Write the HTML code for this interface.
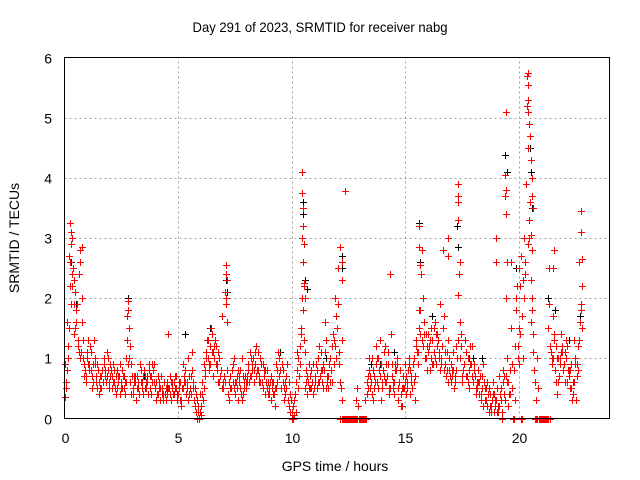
<!DOCTYPE html>
<html><head><meta charset="utf-8"><style>
html,body{margin:0;padding:0;background:#fff;}
svg{display:block;font-family:"Liberation Sans",sans-serif;}
</style></head><body>
<svg id="chart" width="640" height="480" viewBox="0 0 640 480" xmlns="http://www.w3.org/2000/svg">
<rect width="640" height="480" fill="#fff"/>
<text x="320" y="32" text-anchor="middle" font-size="14" textLength="255" lengthAdjust="spacingAndGlyphs">Day 291 of 2023, SRMTID for receiver nabg</text>
<g id="grid"></g>
<g id="ticks"></g>
<g id="marks"></g>
<rect x="64.5" y="57.5" width="545" height="361" fill="none" stroke="#000" stroke-width="1"/>
<text x="335" y="471" text-anchor="middle" font-size="14">GPS time / hours</text>
<text transform="translate(19,238) rotate(-90)" text-anchor="middle" font-size="14">SRMTID / TECUs</text>
</svg>
<script>
const xTicks=[0,5,10,15,20];
const yTicks=[0,1,2,3,4,5,6];
const sampleStepHours=0.1;
const redMainValues=[0.35,0.8,1.5,2.9,2.3,1.8,1.2,2.8,1.0,0.8,1.1,0.9,0.7,1.3,0.7,0.6,0.5,0.6,0.8,1.0,0.9,0.7,0.6,0.5,0.7,0.6,0.5,1.0,1.8,0.6,0.5,0.6,0.7,0.4,0.6,0.8,0.5,0.9,0.7,0.8,0.5,0.4,0.3,0.5,0.6,0.4,0.5,0.3,0.6,0.5,0.4,0.6,0.5,0.8,0.6,0.4,1.1,0.3,0.1,0.2,0.05,0.3,0.8,1.0,1.2,1.4,1.0,0.9,0.6,0.8,0.5,2.4,0.4,0.7,0.6,0.4,0.5,0.7,0.3,0.6,0.5,0.8,0.7,1.0,0.9,0.8,1.0,0.6,0.7,0.5,0.4,0.3,0.6,0.5,1.1,0.8,0.6,0.4,0.9,0.2,0.1,0.05,0.6,1.0,1.4,1.8,0.5,0.4,0.7,0.6,0.5,0.8,0.6,1.1,0.9,0.5,0.7,1.0,0.6,2.0,1.5,0.9,0.3,0,0,0,0,0,0,0.5,0,0,0,0.4,0.8,0.6,0.3,0.9,1.0,0.7,0.5,1.2,0.7,0.4,0.9,0.6,0.8,0.3,0.4,0.7,0.9,0.6,0.8,0.5,1.0,1.3,1.5,2.4,1.2,1.0,1.4,0.8,1.3,1.6,1.2,1.1,0.9,1.7,0.7,0.6,0.9,0.8,0.6,1.0,1.6,0.7,0.9,1.1,0.5,0.9,0.6,0.4,0.8,0.7,0.5,0.3,0.6,0.1,0.2,0.4,0.3,0.1,0.5,0.8,0.3,0.6,0.4,0.9,0,1.8,1.5,0,2.3,2.6,4.5,3.6,2.0,0,1.0,0,0,0,0,1.5,0,1.7,0.8,0.4,1.0,1.2,0.9,1.0,0.7,0.5,0.4,1.0,0.8,1.6];
const redSecondValues=[0.6,1.2,2.6,2.2,1.5,1.9,1.1,2.0,0.9,0.7,1.3,0.8,0.6,0.9,0.5,0.7,0.8,0.9,0.7,0.5,0.8,0.6,0.4,0.7,0.9,0.5,0.6,1.3,1.0,0.4,0.6,0.3,0.5,0.8,0.4,0.7,0.6,0.5,0.9,0.6,0.3,0.5,0.7,0.4,0.5,1.4,0.4,0.6,0.5,0.3,0.5,0.2,0.6,0.4,1.0,0.7,0.5,0.2,0,0.4,0.6,0.9,1.1,0.8,1.5,0.7,1.2,0.6,0.7,1.7,2.1,0.8,0.3,0.5,1.0,0.6,0.8,0.5,0.4,0.7,0.6,1.1,0.9,0.6,1.2,0.7,0.9,0.5,0.8,0.4,0.6,0.5,0.2,0.8,1.0,0.5,0.3,0.7,0.3,0.1,0,0.4,0.8,1.2,3.0,1.3,0.6,0.9,0.5,0.4,0.6,1.0,0.7,0.8,1.6,0.6,0.9,0.8,1.3,1.0,2.5,0,0,0,0,0,0,0,0.3,0,0,0,0,0.7,0.5,1.0,0.5,0.6,0.8,0.3,1.1,0.6,0.9,2.4,0.5,0.8,1.0,0.6,0.2,0.5,0.4,1.0,0.7,0.9,0.3,1.1,1.8,2.8,1.4,0.8,1.2,1.0,1.5,0.9,1.3,0.8,2.8,1.1,0.8,1.0,0.7,0.5,1.2,3.7,1.4,0.8,1.3,0.6,1.2,0.7,0.9,0.5,0.6,0.3,0.2,0.5,0.4,0.2,0.6,0.3,0.1,0.7,0,0.4,2.0,0.6,2.6,0,0.3,1.2,1.4,0,3.0,5.7,3.3,2.3,1.1,0,0.5,0,0,0,0,2.5,0.9,1.3,0.6,1.0,1.4,0.8,1.1,0.6,0.8,0.3,1.3,0.9,2.6];
const redThirdValues=[0.9,1.6,2.2,3.0,1.4,1.6,2.4,1.1,1.3,0.6,0.9,1.2,0.5,1.0,0.9,0.4,0.7,1.0,0.6,0.8,0.7,0.9,0.5,0.8,0.4,0.8,0.7,0.6,1.5,0.9,0.4,0.7,0.6,0.9,0.5,0.5,0.7,0.8,0.4,0.9,0.6,0.7,0.5,0.3,0.4,0.6,0.7,0.5,0.4,0.7,0.6,0.3,0.9,0.6,0.3,0.5,0.8,0.5,0.3,0.0,0.2,0.5,1.0,1.3,0.9,1.1,1.3,0.8,1.0,0.5,0.7,1.9,0.6,0.5,0.9,0.6,0.3,0.8,1.0,0.5,0.7,0.6,1.0,0.8,0.7,1.1,0.6,0.9,0.4,0.8,0.5,0.6,0.4,0.9,0.7,0.5,0.8,0.6,0.3,0.4,0.0,0.3,1.1,0.7,1.5,2.2,0.8,0.6,0.5,0.9,0.7,0.5,1.2,0.6,0.8,1.3,0.5,0.8,1.4,1.2,1.9,0.6,0,0,0,0,0,0,0,0.2,0,0,0.3,0.6,1.0,0.4,0.7,1.2,0.5,0.9,0.8,0.6,1.1,0.5,0.7,0.4,0.9,0.6,0.2,0.5,0.7,0.8,0.4,0.9,0.7,1.1,1.8,1.3,1.6,1.4,1.1,1.5,0.9,1.0,1.4,1.9,1.2,0.8,1.1,0.8,0.6,1.1,0.8,1.3,1.0,0.6,1.3,0.7,0.8,1.2,0.8,0.5,0.6,0.4,0.9,0.5,0.2,0.4,0.3,0.1,0.5,0.2,0.3,0.6,0.7,0.2,0.8,0.5,1.2,2.2,0.9,1.7,2.0,3.9,2.9,1.6,1.4,0.6,0,0,0,0,0,1.9,1.1,1.0,1.2,0.6,0.9,1.1,0.6,1.2,0.8,0.9,0.6,0.3,1.2,1.8];
const redFourthValues=[0.5,1.0,1.9,2.5,2.1,1.3,1.0,1.6,0.7,1.0,0.8,1.1,0.9,0.6,0.8,0.5,0.6,0.7,1.1,0.6,0.5,0.8,0.7,0.6,0.5,0.7,0.4,0.9,1.2,0.7,0.7,0.5,0.4,0.6,0.7,0.6,0.4,0.7,0.6,0.5,0.4,0.6,0.4,0.6,0.3,0.5,0.6,0.4,0.7,0.4,0.3,0.5,0.7,0.5,0.7,0.4,0.6,0.4,0.1,0.1,0.4,0.7,1.3,0.9,1.1,1.2,0.9,1.1,0.8,0.6,0.6,1.6,0.5,0.8,0.5,0.7,0.6,0.4,0.7,0.6,0.9,0.7,0.8,1.1,0.8,0.6,0.9,0.8,0.6,0.6,0.7,0.4,0.5,0.6,0.8,0.9,0.5,0.5,0.6,0.3,0.2,0.1,0.5,0.9,2.0,1.1,0.7,0.5,0.8,0.5,0.9,0.6,0.8,0.5,1.1,0.7,0.6,1.2,0.9,1.7,1.1,0.5,0,0,0,0,0,0,0,0,0,0,0,0.5,0.7,0.8,0.6,1.0,1.3,0.6,0.7,0.9,0.5,1.4,0.6,0.9,0.5,0.8,0.5,0.6,0.5,0.9,0.6,0.6,1.2,0.9,1.4,2.0,1.0,1.2,1.3,0.9,1.1,1.4,1.0,1.0,1.5,0.9,1.3,0.7,0.8,0.7,1.0,2.4,1.2,0.9,0.7,1.0,0.9,0.6,0.7,0.6,0.4,0.7,0.6,0.3,0.5,0.1,0.4,0.2,0.2,0.4,0.1,0.7,1.0,0.4,1.5,0.8,2.0,1.0,2.2,1.0,2.4,5.2,3.0,1.8,0.8,0.3,0,0,0,0,0,1.2,1.0,1.4,1.0,0.7,1.1,0.9,1.3,0.8,0.5,0.6,0.9,0.7,1.3,1.5];
const redSpikeTimes=[0.25,0.3,0.2,0.35,0.7,0.75,0.15,0.4,2.8,2.75,7.1,7.15,7.1,10.45,10.45,10.5,10.5,10.55,10.5,10.55,10.6,12.15,12.2,12.2,12.35,12.2,15.6,15.6,15.65,16.9,16.9,17.35,17.35,17.35,17.4,17.35,19.0,19.0,19.45,19.4,19.45,19.45,19.4,19.5,20.4,20.4,20.4,20.4,20.45,20.5,20.55,20.6,20.6,20.65,20.55,20.6,20.0,20.1,21.55,21.5,22.75,22.75,22.8,22.8,22.75];
const redSpikeValues=[3.25,3.1,2.7,2.4,2.6,2.85,1.2,1.9,1.95,1.7,2.55,2.3,2.0,4.1,3.75,3.5,3.2,2.9,2.6,2.25,2.0,2.85,2.6,2.3,3.78,1.3,3.2,2.85,2.55,3.0,2.7,3.9,3.6,3.3,2.6,2.05,3.0,2.6,5.1,4.05,3.8,3.4,3.7,2.6,5.75,5.55,5.3,5.1,4.9,4.7,4.3,4.0,3.7,3.5,3.05,2.8,2.5,2.7,2.8,2.5,3.45,3.1,2.65,2.2,1.9];
const blackTimes=[0.3,0.5,1.0,2.8,3.5,5.3,6.4,7.1,7.15,8.4,9.5,10.5,10.5,10.6,10.7,11.5,12.2,12.2,12.35,13.5,14.5,15.6,15.65,16.2,16.9,17.3,17.35,18.0,18.4,19.4,19.5,19.9,20.5,20.55,20.6,21.3,21.6,22.2,22.75,22.7,1.5,4.5,8.8,13.9,17.8];
const blackValues=[2.6,1.9,1.0,2.0,0.7,1.4,1.5,2.3,2.1,0.9,1.1,3.6,3.4,2.3,2.15,1.0,2.7,2.5,3.78,0.9,1.1,3.25,2.6,1.7,2.7,3.2,2.85,1.0,1.0,4.38,4.1,2.5,4.5,4.1,3.5,2.0,1.8,1.3,3.1,1.7,0.6,0.5,0.8,0.9,1.0];

const NS='http://www.w3.org/2000/svg';
const X0=64.5,X1=609.5,Y0=418.5,Y1=57.5,XMAX=24,YMAX=6;
function xs(t){return X0+(X1-X0)*t/XMAX;}
function ys(v){return Y0-(Y0-Y1)*v/YMAX;}
const grid=document.getElementById('grid'),ticks=document.getElementById('ticks'),marks=document.getElementById('marks');
function mk(tag,attrs,parent){const e=document.createElementNS(NS,tag);for(const k in attrs)e.setAttribute(k,attrs[k]);parent.appendChild(e);return e;}
xTicks.forEach(t=>{
  const x=Math.round(xs(t))+0.5;
  if(t>0){const g=mk('line',{x1:x,x2:x,y1:Y0,y2:Y1,stroke:'#a0a0a0','stroke-dasharray':'2,3'},grid);
  
  }
  const l=mk('text',{x:x,y:443,'text-anchor':'middle','font-size':'14'},ticks);l.textContent=t;
  
  
});
yTicks.forEach(v=>{
  const y=Math.round(ys(v))+0.5;
  if(v>0&&v<6){const g=mk('line',{x1:X0,x2:X1,y1:y,y2:y,stroke:'#a0a0a0','stroke-dasharray':'2,3'},grid);
  
  }
  const l=mk('text',{x:52,y:y+5,'text-anchor':'end','font-size':'14'},ticks);l.textContent=v;
  
  
});
function plus(t,v,color,name){
  const x=Math.round(xs(t))+0.5,y=Math.round(ys(v))+0.5;
  const p=mk('path',{d:`M${x-3.5} ${y}H${x+3.5}M${x} ${y-3.5}V${y+3.5}`,stroke:color,'stroke-width':'1',fill:'none'},marks);
  
  
}
blackValues.forEach((v,i)=>plus(blackTimes[i],v,'#000','black-point'));
redMainValues.forEach((v,i)=>plus(i*sampleStepHours,v,'#ff0000','red-point'));
redSecondValues.forEach((v,i)=>plus(0.05+i*sampleStepHours,v,'#ff0000','red-point'));
redThirdValues.forEach((v,i)=>plus(0.025+i*sampleStepHours,v,'#ff0000','red-point'));
redFourthValues.forEach((v,i)=>plus(0.075+i*sampleStepHours,v,'#ff0000','red-point'));
redSpikeValues.forEach((v,i)=>plus(redSpikeTimes[i],v,'#ff0000','red-point'));
</script>
</body></html>
